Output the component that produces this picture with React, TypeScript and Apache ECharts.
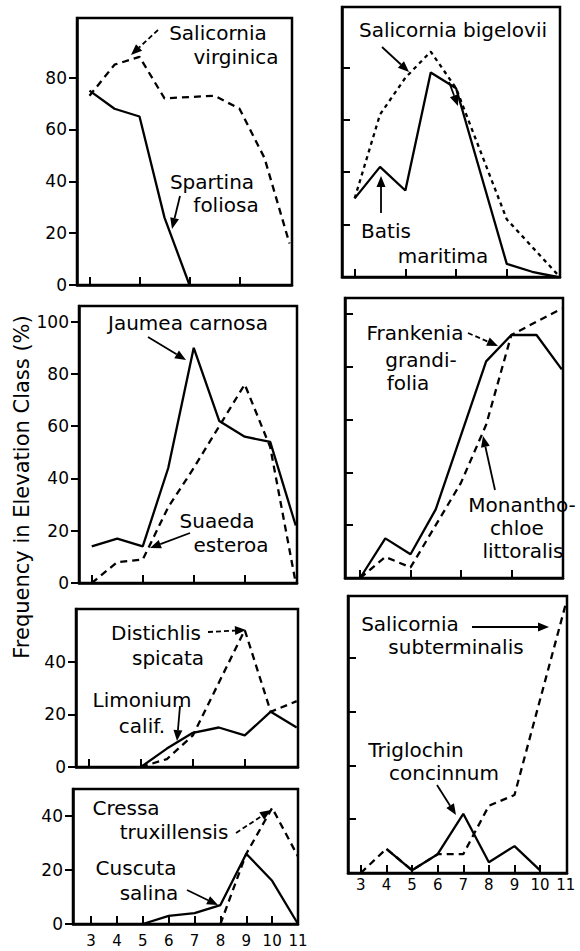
import React, { useEffect, useRef } from "react";
import * as echarts from "echarts";

// ---- axis values ----
const elevationLabels = [3, 4, 5, 6, 7, 8, 9, 10, 11];
const elevationTicksEvery = [3, 4, 5, 6, 7, 8, 9, 10];
const elevationTicksOdd = [3, 5, 7, 9];
const freqLabels100 = [0, 20, 40, 60, 80, 100];
const freqLabels80 = [0, 20, 40, 60, 80];
const freqLabels40 = [0, 20, 40];
const freqTicksRight100 = [20, 40, 60, 80, 100];
const freqTicksRight80 = [20, 40, 60, 80];

// ---- series values (elevation class -> frequency %) ----
const spartinaX = [3, 4, 5, 6, 7];
const spartinaY = [75, 68, 65, 26, 0];
const virginicaX = [3, 4, 5, 6, 8, 9, 10, 11];
const virginicaY = [73, 85, 88, 72, 73, 68, 49, 16];

const jaumeaX = [3, 4, 5, 6, 7, 8, 9, 10, 11];
const jaumeaY = [14, 17, 14, 44, 90, 62, 56, 54, 22];
const suaedaX = [3, 4, 5, 6, 7, 8, 9, 10, 11];
const suaedaY = [0, 8, 9, 29, 44, 60, 76, 52, 0];

const distichlisX = [5, 6, 7, 9, 10, 11];
const distichlisY = [0, 3, 12, 52, 21, 25];
const limoniumX = [5, 6, 7, 8, 9, 10, 11];
const limoniumY = [0, 7, 13, 15, 12, 21, 15];

const cressaX = [8, 9, 10, 11];
const cressaY = [0, 26, 43, 25];
const cuscutaX = [5, 6, 7, 8, 9, 10, 11];
const cuscutaY = [0, 3, 4, 7, 26, 16, 0];

const bigeloviiX = [3, 4, 5, 6, 7, 9, 11];
const bigeloviiY = [30, 62, 76, 86, 72, 22, 1];
const batisX = [3, 4, 5, 6, 7, 9, 10, 11];
const batisY = [30, 42, 33, 78, 72, 5, 2, 0];

const frankeniaX = [3, 4, 5, 6, 8, 9, 10, 11];
const frankeniaY = [0, 15, 9, 26, 82, 92, 92, 79];
const monanthoX = [3, 4, 5, 7, 8, 9, 11];
const monanthoY = [0, 8, 4, 36, 58, 92, 102];

const subterminalisX = [3, 4, 5, 6, 7, 8, 9, 11];
const subterminalisY = [0, 9, 1, 7, 7, 25, 29, 100];
const triglochinX = [4, 5, 6, 7, 8, 9, 10];
const triglochinY = [9, 1, 7, 22, 4, 10, 1];

const FONT = '"DejaVu Sans", "Liberation Sans", sans-serif';

type Panel = {
  left: number; top: number; width: number; height: number;
  xMin: number; xMax: number; yMax: number;
  xTicks: number[]; xLabels: number[] | null; xLabelMargin?: number;
  yTicks: number[]; yLabels: number[] | null; yInside: boolean;
};

const panels: Panel[] = [
  { left: 77, top: 18, width: 215, height: 267, xMin: 2.5, xMax: 11.1, yMax: 103, xTicks: elevationTicksOdd, xLabels: null, yTicks: freqLabels80, yLabels: freqLabels80, yInside: false },
  { left: 79, top: 306, width: 218, height: 277, xMin: 2.5, xMax: 11.05, yMax: 106, xTicks: elevationTicksOdd, xLabels: null, yTicks: freqLabels100, yLabels: freqLabels100, yInside: false },
  { left: 76, top: 609, width: 222, height: 158, xMin: 2.5, xMax: 11.05, yMax: 60, xTicks: elevationTicksOdd, xLabels: null, yTicks: freqLabels40, yLabels: freqLabels40, yInside: false },
  { left: 73, top: 789, width: 225, height: 135, xMin: 2.3, xMax: 11.0, yMax: 50, xTicks: elevationTicksEvery, xLabels: elevationLabels, xLabelMargin: 9, yTicks: freqLabels40, yLabels: freqLabels40, yInside: false },
  { left: 342, top: 7, width: 218, height: 270, xMin: 2.5, xMax: 11.1, yMax: 103, xTicks: elevationTicksOdd, xLabels: null, yTicks: freqTicksRight80, yLabels: null, yInside: true },
  { left: 345, top: 298, width: 218, height: 280, xMin: 2.4, xMax: 11.05, yMax: 106, xTicks: elevationTicksOdd, xLabels: null, yTicks: freqTicksRight100, yLabels: null, yInside: true },
  { left: 348, top: 596, width: 219, height: 277, xMin: 2.5, xMax: 11.05, yMax: 103, xTicks: elevationTicksEvery, xLabels: elevationLabels, xLabelMargin: 4, yTicks: freqTicksRight80, yLabels: null, yInside: true },
];

const seriesDefs: { panel: number; xs: number[]; ys: number[]; dashed: boolean; name: string; dash?: number[] }[] = [
  { panel: 0, xs: virginicaX, ys: virginicaY, dashed: true, name: "Salicornia virginica" },
  { panel: 0, xs: spartinaX, ys: spartinaY, dashed: false, name: "Spartina foliosa" },
  { panel: 1, xs: suaedaX, ys: suaedaY, dashed: true, name: "Suaeda esteroa" },
  { panel: 1, xs: jaumeaX, ys: jaumeaY, dashed: false, name: "Jaumea carnosa" },
  { panel: 2, xs: distichlisX, ys: distichlisY, dashed: true, name: "Distichlis spicata" },
  { panel: 2, xs: limoniumX, ys: limoniumY, dashed: false, name: "Limonium calif." },
  { panel: 3, xs: cressaX, ys: cressaY, dashed: true, name: "Cressa truxillensis" },
  { panel: 3, xs: cuscutaX, ys: cuscutaY, dashed: false, name: "Cuscuta salina" },
  { panel: 4, xs: bigeloviiX, ys: bigeloviiY, dashed: true, name: "Salicornia bigelovii", dash: [4, 4] },
  { panel: 4, xs: batisX, ys: batisY, dashed: false, name: "Batis maritima" },
  { panel: 5, xs: monanthoX, ys: monanthoY, dashed: true, name: "Monanthochloe littoralis" },
  { panel: 5, xs: frankeniaX, ys: frankeniaY, dashed: false, name: "Frankenia grandifolia" },
  { panel: 6, xs: subterminalisX, ys: subterminalisY, dashed: true, name: "Salicornia subterminalis" },
  { panel: 6, xs: triglochinX, ys: triglochinY, dashed: false, name: "Triglochin concinnum" },
];

// annotation texts: [text, centerX, centerY]
const labelTexts: [string, number, number][] = [
  ["Salicornia", 218, 33], ["virginica", 236, 57],
  ["Spartina", 212, 182], ["foliosa", 226, 205],
  ["Jaumea carnosa", 188, 323],
  ["Suaeda", 217, 521], ["esteroa", 231, 545],
  ["Distichlis", 156, 633], ["spicata", 168, 658],
  ["Limonium", 142, 700], ["calif.", 142, 726],
  ["Cressa", 126, 808], ["truxillensis", 174, 832],
  ["Cuscuta", 136, 868], ["salina", 149, 893],
  ["Salicornia bigelovii", 453, 30],
  ["Batis", 386, 231], ["maritima", 443, 256],
  ["Frankenia", 415, 333], ["grandi-", 421, 360], ["folia", 408, 383],
  ["Monantho-", 522, 505], ["chloe", 517, 528], ["littoralis", 523, 551],
  ["Salicornia", 410, 624], ["subterminalis", 456, 647],
  ["Triglochin", 416, 750], ["concinnum", 444, 773],
];

// arrows: [x1, y1, x2, y2, dashed]
const arrows: [number, number, number, number, boolean][] = [
  [158, 30, 131, 55, true],
  [180, 196, 172, 229, false],
  [148, 337, 186, 360, false],
  [190, 533, 150, 548, false],
  [208, 632, 246, 630, true],
  [180, 706, 177, 741, false],
  [236, 833, 271, 810, true],
  [187, 890, 218, 905, false],
  [382, 47, 409, 72, false],
  [381, 213, 381, 176, false],
  [449, 82, 458, 106, false],
  [468, 333, 498, 346, true],
  [495, 490, 483, 436, false],
  [472, 627, 549, 627, false],
  [437, 785, 456, 815, false],
];

function arrowGraphic(a: [number, number, number, number, boolean]) {
  const [x1, y1, x2, y2, dashed] = a;
  const dx = x2 - x1, dy = y2 - y1;
  const len = Math.sqrt(dx * dx + dy * dy);
  const ux = dx / len, uy = dy / len;
  const hl = 11, hw = 4.5;
  const bx = x2 - ux * hl, by = y2 - uy * hl;
  return {
    type: "group",
    children: [
      {
        type: "line",
        shape: { x1, y1, x2: bx, y2: by },
        style: { stroke: "#000", lineWidth: 1.8, lineDash: dashed ? [5, 3] : null },
      },
      {
        type: "polygon",
        shape: { points: [[x2, y2], [bx - uy * hw, by + ux * hw], [bx + uy * hw, by - ux * hw]] },
        style: { fill: "#000" },
      },
    ],
  };
}

export default function App() {
  const ref = useRef<HTMLDivElement>(null);
  useEffect(() => {
    if (!ref.current) return;
    const chart = echarts.init(ref.current, null, { renderer: "svg" });
    const axisLineStyle = { color: "#000", width: 2.5 };
    const option: any = {
      animation: false,
      backgroundColor: "#fff",
      grid: panels.map((p) => ({
        left: p.left, top: p.top, width: p.width, height: p.height,
        show: true, borderColor: "#000", borderWidth: 2.5, backgroundColor: "transparent",
        containLabel: false, outerBoundsMode: "none",
      })),
      xAxis: panels.map((p, i) => ({
        type: "value", gridIndex: i, min: p.xMin, max: p.xMax,
        axisLine: { show: true, onZero: false, lineStyle: axisLineStyle },
        axisTick: { show: true, inside: true, length: 8, lineStyle: { color: "#000", width: 2 }, customValues: p.xTicks },
        axisLabel: {
          show: !!p.xLabels, customValues: p.xLabels || [], color: "#000",
          fontSize: 15, fontFamily: FONT, margin: p.xLabelMargin || 8,
          showMinLabel: true, showMaxLabel: true, hideOverlap: false,
        },
        splitLine: { show: false },
      })),
      yAxis: panels.map((p, i) => ({
        type: "value", gridIndex: i, min: 0, max: p.yMax,
        axisLine: { show: true, onZero: false, lineStyle: axisLineStyle },
        axisTick: { show: true, inside: p.yInside, length: 8, lineStyle: { color: "#000", width: 2 }, customValues: p.yTicks },
        axisLabel: {
          show: !!p.yLabels, customValues: p.yLabels || [], color: "#000",
          fontSize: 17, fontFamily: FONT, margin: 10,
          showMinLabel: true, showMaxLabel: true, hideOverlap: false,
        },
        splitLine: { show: false },
      })),
      series: seriesDefs.map((s) => ({
        type: "line", name: s.name, xAxisIndex: s.panel, yAxisIndex: s.panel,
        data: s.xs.map((x, k) => [x, s.ys[k]]),
        symbol: "none", silent: true, clip: false,
        lineStyle: { color: "#000", width: 2.3, type: s.dashed ? (s.dash || [7, 5]) : "solid" },
        z: s.dashed ? 3 : 4,
      })),
      graphic: [
        {
          type: "text", x: 22, y: 487, rotation: Math.PI / 2,
          style: {
            text: "Frequency in Elevation Class (%)", fill: "#000",
            fontSize: 21, fontFamily: FONT, align: "center", verticalAlign: "middle",
          },
        },
        ...labelTexts.map(([t, x, y]) => ({
          type: "text", x, y,
          style: { text: t, fill: "#000", fontSize: 20, fontFamily: FONT, align: "center", verticalAlign: "middle" },
          z: 10,
        })),
        ...arrows.map(arrowGraphic),
      ],
    };
    chart.setOption(option);
    return () => chart.dispose();
  }, []);
  return (
    <div
      ref={ref}
      style={{ position: "absolute", left: 0, top: 0, width: 580, height: 951, background: "#fff" }}
    />
  );
}
